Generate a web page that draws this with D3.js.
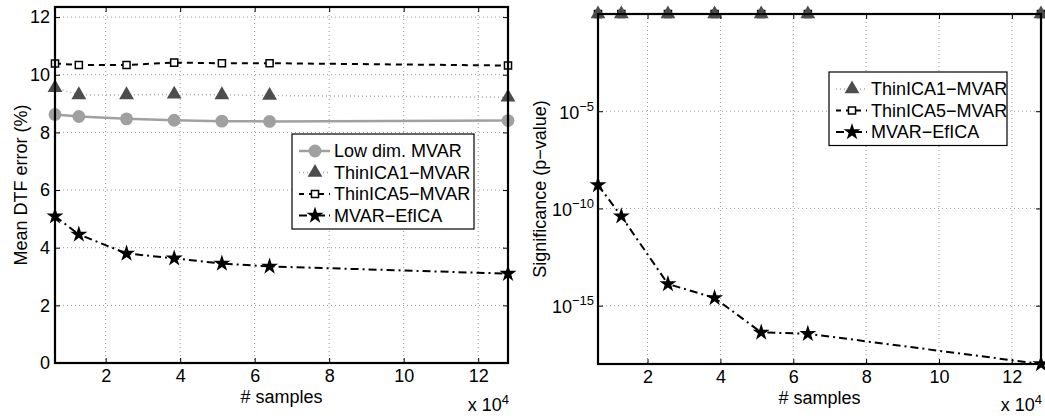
<!DOCTYPE html>
<html>
<head>
<meta charset="utf-8">
<script src="https://cdn.jsdelivr.net/npm/d3@7"></script>
<style>
  body { margin: 0; background: #fff; }
  text { font-family: "Liberation Sans", Arial, Helvetica, sans-serif; fill: #000; }
</style>
</head>
<body>
<svg id="chart" width="1045" height="418"></svg>
<script>
// ---- data ----
const samples = [6400, 12800, 25600, 38400, 51200, 64000, 128000];
const xTicks = [20000, 40000, 60000, 80000, 100000, 120000];

// left panel: mean DTF error (%)
const lowDimErr = [8.62, 8.55, 8.47, 8.42, 8.39, 8.38, 8.41];
const thin1Err = [9.55, 9.3, 9.3, 9.32, 9.3, 9.28, 9.22];
const thin5Err = [10.39, 10.34, 10.34, 10.42, 10.4, 10.4, 10.32];
const eficaErr = [5.09, 4.46, 3.8, 3.63, 3.45, 3.35, 3.1];
const errTicks = [0, 2, 4, 6, 8, 10, 12];

// right panel: significance (p-value)
const thin1P = [1, 1, 1, 1, 1, 1, 1];
const thin5P = [1, 1, 1, 1, 1, 1, 1];
const eficaP = [1.6e-9, 4e-11, 1.3e-14, 2.5e-15, 4.2e-17, 3.6e-17, 1e-18];
const pTicks = [1e-15, 1e-10, 1e-5];

const svg = d3.select("#chart");

// series styles
const styles = {
    lowdim: { label: "Low dim. MVAR", stroke: "#a0a0a0", width: 2.5, dash: null, sym: d3.symbolCircle, size: 130, fill: "#a0a0a0", mstroke: "none" },
    thin1:  { label: "ThinICA1\u2212MVAR", stroke: "#a8a8a8", width: 1.5, dash: "1,3", sym: d3.symbolTriangle, size: 95, fill: "#4d4d4d", mstroke: "none" },
    thin5:  { label: "ThinICA5\u2212MVAR", stroke: "#000", width: 2, dash: "6,5", sym: d3.symbolSquare, size: 50, fill: "#fff", mstroke: "#000" },
    efica:  { label: "MVAR\u2212EfICA", stroke: "#000", width: 2, dash: "8,4,2,4", sym: d3.symbolStar, size: 90, fill: "#000", mstroke: "none" }
};

function drawSeries(g, x, y, xs, ys, st)
{
    let pts = xs.map((d, i) => [x(d), y(ys[i])]);
    g.append("path")
        .attr("d", d3.line()(pts))
        .attr("fill", "none")
        .attr("stroke", st.stroke)
        .attr("stroke-width", st.width)
        .attr("stroke-dasharray", st.dash);
    g.selectAll(null)
        .data(pts)
        .enter()
        .append("path")
        .attr("transform", d => "translate(" + d[0] + "," + d[1] + ")")
        .attr("d", d3.symbol().type(st.sym).size(st.size))
        .attr("fill", st.fill)
        .attr("stroke", st.mstroke)
        .attr("stroke-width", 1.5);
}

function drawLegend(g, x0, y0, w, keys)
{
    let rowH = 21.5;
    g.append("rect")
        .attr("x", x0).attr("y", y0)
        .attr("width", w).attr("height", keys.length * rowH + 9)
        .attr("fill", "#fff").attr("stroke", "#000").attr("stroke-width", 1.2);
    keys.forEach((k, i) => {
        let st = styles[k];
        let cy = y0 + 17 + i * rowH;
        g.append("line")
            .attr("x1", x0 + 7).attr("x2", x0 + 38)
            .attr("y1", cy).attr("y2", cy)
            .attr("stroke", st.stroke)
            .attr("stroke-width", st.width)
            .attr("stroke-dasharray", k === "thin5" ? "5,5" : st.dash);
        g.append("path")
            .attr("transform", "translate(" + (x0 + 23) + "," + cy + ")")
            .attr("d", d3.symbol().type(st.sym).size(st.size))
            .attr("fill", st.fill)
            .attr("stroke", st.mstroke)
            .attr("stroke-width", 1.5);
        g.append("text")
            .attr("x", x0 + 42).attr("y", cy)
            .attr("dy", "0.35em")
            .style("font-size", "18px")
            .text(st.label);
    });
}

function grid(g, x, y, yTickVals, left, right, top, bottom)
{
    // dotted grid
    g.selectAll(null).data(xTicks).enter().append("line")
        .attr("x1", d => x(d)).attr("x2", d => x(d))
        .attr("y1", top).attr("y2", bottom)
        .attr("stroke", "#999").attr("stroke-width", 1).attr("stroke-dasharray", "1,3");
    g.selectAll(null).data(yTickVals.filter(v => y(v) > top + 1 && y(v) < bottom - 1)).enter().append("line")
        .attr("x1", left).attr("x2", right)
        .attr("y1", d => y(d)).attr("y2", d => y(d))
        .attr("stroke", "#999").attr("stroke-width", 1).attr("stroke-dasharray", "1,3");
}

function axes(g, x, y, yTickVals, left, right, top, bottom, fmtY)
{
    let xb = g.append("g").attr("transform", "translate(0," + bottom + ")")
        .call(d3.axisBottom(x).tickValues(xTicks).tickSizeInner(-5).tickSizeOuter(0).tickPadding(6).tickFormat(d => d / 1e4));
    let xt = g.append("g").attr("transform", "translate(0," + top + ")")
        .call(d3.axisTop(x).tickValues(xTicks).tickSizeInner(-5).tickSizeOuter(0).tickFormat(""));
    let yl = g.append("g").attr("transform", "translate(" + left + ",0)")
        .call(d3.axisLeft(y).tickValues(yTickVals).tickSizeInner(-5).tickSizeOuter(0).tickPadding(5).tickFormat(fmtY ? "" : d => d));
    let yr = g.append("g").attr("transform", "translate(" + right + ",0)")
        .call(d3.axisRight(y).tickValues(yTickVals).tickSizeInner(-5).tickSizeOuter(0).tickFormat(""));
    [xb, xt, yl, yr].forEach(a => {
        a.select(".domain").remove();
        a.selectAll("line").attr("stroke", "#000").attr("stroke-width", 1);
        a.selectAll("text").style("font-size", "18px").attr("fill", "#000");
    });
    if (fmtY)
    {
        yl.selectAll(".tick").each(function(d) {
            let t = d3.select(this).append("text")
                .attr("x", -4).attr("dy", "0.38em")
                .attr("text-anchor", "end")
                .style("font-size", "18px");
            t.append("tspan").text("10");
            t.append("tspan").attr("dy", "-0.6em").style("font-size", "13px").text(fmtY(d));
        });
    }
    // box
    g.append("rect")
        .attr("x", left).attr("y", top)
        .attr("width", right - left).attr("height", bottom - top)
        .attr("fill", "none").attr("stroke", "#000").attr("stroke-width", 2.2);
}

function xLabels(g, left, right, bottom)
{
    g.append("text")
        .attr("x", (left + right) / 2).attr("y", bottom + 40)
        .attr("text-anchor", "middle")
        .style("font-size", "18px")
        .text("# samples");
    let t = g.append("text")
        .attr("x", right + 1).attr("y", 411)
        .attr("text-anchor", "end")
        .style("font-size", "18px");
    t.append("tspan").text("x 10");
    t.append("tspan").attr("dy", "-0.55em").style("font-size", "13px").text("4");
}

/***** left panel *****/
{
    let L = 55, R = 508, T = 7, B = 363;
    let x = d3.scaleLinear().domain([6400, 128000]).range([L, R]);
    let y = d3.scaleLinear().domain([0, 12.35]).range([B, T]);
    let g = svg.append("g");
    grid(g, x, y, errTicks, L, R, T, B);
    drawSeries(g, x, y, samples, lowDimErr, styles.lowdim);
    drawSeries(g, x, y, samples, thin1Err, styles.thin1);
    drawSeries(g, x, y, samples, thin5Err, styles.thin5);
    axes(g, x, y, errTicks, L, R, T, B, null);
    drawSeries(g, x, y, samples, eficaErr, styles.efica);
    drawLegend(g, 292, 134, 182, ["lowdim", "thin1", "thin5", "efica"]);
    xLabels(g, L, R, B);
    g.append("text")
        .attr("transform", "translate(27," + (T + B) / 2 + ") rotate(-90)")
        .attr("text-anchor", "middle")
        .style("font-size", "18px")
        .text("Mean DTF error (%)");
}

/***** right panel *****/
{
    let L = 598, R = 1041, T = 14, B = 364;
    let x = d3.scaleLinear().domain([6400, 128000]).range([L, R]);
    let y = d3.scaleLog().domain([1e-18, 1]).range([B, T]);
    let g = svg.append("g");
    grid(g, x, y, pTicks, L, R, T, B);
    drawSeries(g, x, y, samples, thin5P, styles.thin5);
    drawSeries(g, x, y, samples, thin1P, styles.thin1);
    axes(g, x, y, pTicks, L, R, T, B, d => "\u2212" + Math.round(-Math.log10(d)));
    drawSeries(g, x, y, samples, eficaP, styles.efica);
    drawLegend(g, 829, 72, 178, ["thin1", "thin5", "efica"]);
    xLabels(g, L, R, B);
    g.append("text")
        .attr("transform", "translate(546," + (T + B) / 2 + ") rotate(-90)")
        .attr("text-anchor", "middle")
        .style("font-size", "18px")
        .text("Significance (p\u2212value)");
}
</script>
</body>
</html>
